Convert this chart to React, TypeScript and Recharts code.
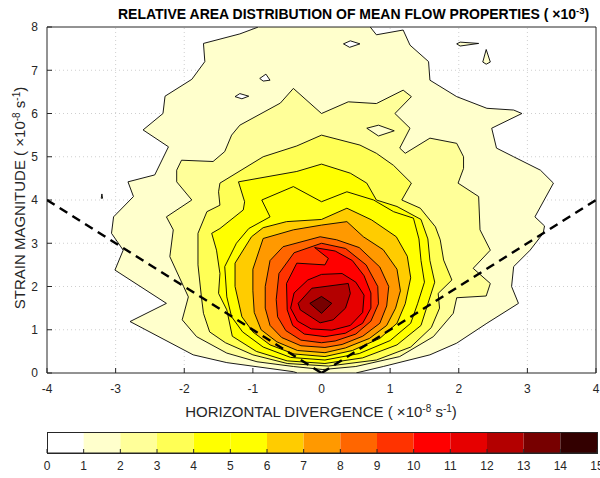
import React from "react";
import { ScatterChart, Scatter, XAxis, YAxis, ReferenceLine, BarChart, Bar } from "recharts";

type P = [number, number];

const X_TICKS = [-4, -3, -2, -1, 0, 1, 2, 3, 4];
const Y_TICKS = [0, 1, 2, 3, 4, 5, 6, 7, 8];
const CB_TICKS = [0, 1, 2, 3, 4, 5, 6, 7, 8, 9, 10, 11, 12, 13, 14, 15];

// colour of each band 0-1 ... 14-15
const LEVEL_COLORS = [
  "#ffffff", "#ffffcc", "#ffff99", "#ffff55", "#ffff00", "#ffff00", "#ffcc00", "#ff9900",
  "#ff6600", "#ff3300", "#ff0000", "#e60000", "#b30000", "#770000", "#330000",
];

// contour polygons (x = divergence, y = strain), outermost level first
const L1: P[] = [
  [0.5, 0], [-0.35, 0], [-0.41, 0.03], [-1.38, 0.24], [-1.87, 0.42], [-2.79, 1.19], [-2.26, 1.61],
  [-3.01, 2.38], [-2.89, 2.84], [-3.06, 3.23], [-3.03, 3.61], [-2.74, 4.08], [-2.82, 4.42],
  [-2.43, 4.58], [-2.23, 5.23], [-2.6, 5.62], [-2.31, 6.0], [-2.28, 6.4], [-1.89, 6.79],
  [-1.7, 7.2], [-1.72, 7.62], [-1.19, 7.84], [-0.92, 8.0], [0.71, 8.0], [0.8, 7.82], [1.19, 7.93],
  [1.29, 7.58], [1.56, 7.2], [1.58, 6.77], [1.97, 6.39], [2.41, 6.12], [2.8, 6.08], [2.92, 6.0],
  [2.48, 5.66], [2.55, 5.2], [2.8, 5.0], [3.19, 4.69], [3.38, 4.39], [3.11, 3.61], [3.25, 3.4],
  [3.23, 3.23], [3.04, 2.84], [2.8, 2.46], [2.77, 2.0], [2.87, 1.61], [2.41, 1.15], [1.97, 0.69],
  [1.58, 0.42], [0.9, 0.15],
];
const L2: P[] = [
  [0.0, 6.0], [0.39, 6.27], [0.8, 6.23], [1.19, 6.54], [1.31, 6.39], [1.07, 6.0], [1.29, 5.66],
  [1.14, 5.2], [1.22, 5.08], [1.58, 5.43], [1.97, 5.31], [2.07, 5.0], [2.07, 4.73], [1.99, 4.39],
  [2.29, 4.08], [2.31, 3.31], [2.46, 2.84], [2.21, 2.42], [2.46, 2.07], [2.4, 1.78], [1.97, 1.74],
  [1.92, 1.38], [1.63, 0.84], [1.14, 0.38], [0.5, 0.15], [0.02, 0.08], [-0.41, 0.15], [-0.94, 0.26],
  [-1.38, 0.46], [-1.82, 0.84], [-2.03, 1.23], [-1.94, 1.76], [-2.01, 2.0], [-2.21, 2.69],
  [-2.16, 3.31], [-2.26, 3.61], [-1.89, 4.0], [-2.11, 4.42], [-2.11, 4.69], [-2.04, 4.92],
  [-1.58, 4.89], [-1.41, 5.12], [-1.31, 5.5], [-1.19, 5.73], [-0.6, 6.24], [-0.41, 6.58],
];
const L3: P[] = [
  [0.0, 5.5], [0.56, 5.27], [0.8, 5.08], [1.05, 4.8], [1.31, 4.39], [1.17, 4.0], [1.44, 3.81],
  [1.66, 3.38], [1.73, 3.08], [1.78, 2.61], [1.9, 2.15], [1.7, 1.84], [1.72, 1.5], [1.6, 1.05],
  [1.3, 0.6], [0.8, 0.3], [0.1, 0.16], [-0.5, 0.22], [-1.0, 0.42], [-1.4, 0.7], [-1.63, 0.95],
  [-1.72, 1.38], [-1.75, 1.76], [-1.8, 2.5], [-1.8, 3.23], [-1.67, 3.73], [-1.48, 3.88],
  [-1.5, 4.19], [-1.48, 4.39], [-0.85, 5.0], [-0.36, 5.25],
];
const L4: P[] = [
  [0.0, 4.83], [0.42, 4.62], [0.66, 4.39], [0.8, 4.0], [1.1, 3.85], [1.45, 3.55], [1.55, 3.1],
  [1.58, 2.6], [1.65, 2.1], [1.55, 1.6], [1.45, 1.1], [1.1, 0.65], [0.6, 0.35], [0.05, 0.22],
  [-0.5, 0.28], [-0.95, 0.5], [-1.3, 0.85], [-1.38, 1.46], [-1.5, 1.84], [-1.48, 2.3],
  [-1.53, 2.84], [-1.6, 3.23], [-1.48, 3.34], [-1.14, 3.77], [-1.12, 3.96], [-1.21, 4.42],
  [-0.36, 4.66],
];
const L5: P[] = [
  [0.0, 3.96], [0.37, 4.19], [0.76, 4.0], [1.05, 3.73], [1.34, 3.58], [1.42, 3.1], [1.45, 2.6],
  [1.5, 2.1], [1.4, 1.6], [1.3, 1.15], [1.0, 0.75], [0.55, 0.45], [0.05, 0.3], [-0.45, 0.36],
  [-0.85, 0.6], [-1.15, 0.95], [-1.31, 1.3], [-1.38, 1.76], [-1.41, 2.46], [-1.24, 3.0],
  [-1.06, 3.34], [-0.75, 3.61], [-0.87, 4.0], [-0.41, 4.31],
];
const L6: P[] = [
  [0.0, 3.55], [0.37, 3.81], [0.73, 3.54], [1.09, 3.15], [1.25, 2.7], [1.3, 2.2], [1.22, 1.6],
  [1.1, 1.15], [0.85, 0.8], [0.45, 0.52], [0.05, 0.38], [-0.4, 0.44], [-0.75, 0.65], [-1.0, 0.95],
  [-1.16, 1.3], [-1.26, 2.0], [-1.26, 2.54], [-1.02, 3.15], [-0.85, 3.36], [-0.51, 3.5],
];
const L7: P[] = [
  [0.0, 3.42], [0.37, 3.5], [0.61, 3.15], [0.9, 2.85], [1.1, 2.4], [1.15, 1.9], [1.08, 1.5],
  [0.95, 1.1], [0.7, 0.8], [0.35, 0.58], [0.05, 0.47], [-0.35, 0.52], [-0.65, 0.72], [-0.88, 1.0],
  [-0.98, 1.4], [-1.0, 1.9], [-1.0, 2.4], [-0.85, 3.11], [-0.41, 3.31],
];
const L8: P[] = [
  [-0.02, 3.15], [0.22, 3.08], [0.55, 2.9], [0.85, 2.45], [0.98, 2.0], [0.95, 1.55], [0.85, 1.15],
  [0.6, 0.85], [0.3, 0.66], [0.05, 0.59], [-0.3, 0.63], [-0.58, 0.82], [-0.75, 1.1], [-0.82, 1.5],
  [-0.82, 2.0], [-0.75, 2.6], [-0.56, 2.92],
];
const L9: P[] = [
  [0.0, 3.0], [0.35, 2.88], [0.65, 2.5], [0.82, 2.0], [0.83, 1.6], [0.72, 1.2], [0.5, 0.9],
  [0.2, 0.74], [0.0, 0.7], [-0.3, 0.76], [-0.52, 0.98], [-0.64, 1.3], [-0.66, 1.7], [-0.62, 2.3],
  [-0.4, 2.78],
];
const L10: P[] = [
  [-0.1, 2.9], [0.2, 2.82], [0.45, 2.6], [0.62, 2.25], [0.72, 1.85], [0.72, 1.5], [0.6, 1.15],
  [0.35, 0.92], [0.05, 0.84], [-0.25, 0.9], [-0.42, 1.1], [-0.5, 1.46], [-0.51, 2.07],
  [-0.36, 2.54], [0.05, 2.5], [0.1, 2.65],
];
const L11: P[] = [
  [0.0, 2.28], [0.3, 2.3], [0.5, 2.1], [0.62, 1.8], [0.6, 1.4], [0.42, 1.1], [0.15, 0.99],
  [-0.15, 1.02], [-0.35, 1.2], [-0.45, 1.5], [-0.4, 1.85], [-0.2, 2.15],
];
const L12: P[] = [
  [-0.34, 1.61], [-0.14, 1.96], [0.39, 2.07], [0.42, 1.84], [0.35, 1.5], [0.17, 1.23],
  [-0.02, 1.16], [-0.31, 1.46],
];
const L13: P[] = [[-0.17, 1.61], [0.0, 1.77], [0.15, 1.61], [0.0, 1.38]];

const LEVELS = [L1, L2, L3, L4, L5, L6, L7, L8, L9, L10, L11, L12, L13];

// small closed contours: local minima (white) and isolated maxima / holes (cream)
const WHITE_SPOTS: P[][] = [
  [[-1.26, 6.39], [-1.19, 6.46], [-1.06, 6.4], [-1.16, 6.34]],
  [[-0.9, 6.81], [-0.81, 6.91], [-0.75, 6.77], [-0.85, 6.75]],
  [[0.32, 7.61], [0.42, 7.68], [0.56, 7.61], [0.41, 7.53]],
];
const CREAM_SPOTS: P[][] = [
  [[1.97, 7.61], [2.02, 7.65], [2.29, 7.62], [2.02, 7.56]],
  [[2.4, 7.48], [2.46, 7.19], [2.4, 7.14], [2.35, 7.19]],
  [[-3.21, 4.04], [-3.2, 4.14], [-3.19, 4.04]],
  [[0.66, 5.66], [0.83, 5.73], [1.06, 5.6], [0.83, 5.48]],
];

const DASH_LEFT: P[] = [[-4, 4], [0, 0]];
const DASH_RIGHT: P[] = [[0, 0], [4, 4]];

const CB_ROW = [
  LEVEL_COLORS.reduce<Record<string, number | string>>((row, _c, i) => {
    row[`b${i}`] = 1;
    return row;
  }, { name: "cb" }),
];

const toXY = (pts: P[]) => pts.map(([x, y]) => ({ x, y }));
const noDot = () => <g />;

function filledPath(fill: string) {
  return (props: any) => {
    const pts = props.points ?? [];
    if (!pts.length) return <g />;
    const d = pts.map((p: any, i: number) => `${i ? "L" : "M"}${p.x},${p.y}`).join(" ") + " Z";
    return <path d={d} fill={fill} stroke="#000" strokeWidth={0.9} strokeLinejoin="round" />;
  };
}

const AXIS_COLOR = "#262626";
const FONT = "'Liberation Sans', Arial, Helvetica, sans-serif";
const tickStyle = { fontSize: 12, fill: AXIS_COLOR, fontFamily: FONT };

export default function App() {
  return (
    <div style={{ position: "fixed", left: 0, top: 0, width: 600, height: 478, background: "#fff", fontFamily: FONT }}>
      <ScatterChart width={600} height={478} margin={{ top: 26, right: 3, bottom: 75, left: 7 }}>
        <XAxis
          type="number" dataKey="x" domain={[-4, 4]} ticks={X_TICKS} allowDataOverflow
          height={30} tickSize={-5} tickMargin={16} tick={tickStyle}
          stroke={AXIS_COLOR} interval={0}
        />
        <XAxis
          xAxisId="top" orientation="top" type="number" domain={[-4, 4]} ticks={X_TICKS}
          allowDataOverflow height={1} tickSize={-5} tick={false} stroke={AXIS_COLOR}
        />
        <YAxis
          type="number" dataKey="y" domain={[0, 8]} ticks={Y_TICKS} allowDataOverflow
          width={40} tickSize={-5} tickMargin={14} tick={tickStyle}
          stroke={AXIS_COLOR} interval={0}
        />
        <YAxis
          yAxisId="right" orientation="right" type="number" domain={[0, 8]} ticks={Y_TICKS}
          allowDataOverflow width={1} tickSize={-5} tick={false} stroke={AXIS_COLOR}
        />
        {LEVELS.map((poly, i) => (
          <Scatter
            key={`lvl${i}`} data={toXY(poly)} shape={noDot}
            line={filledPath(LEVEL_COLORS[i + 1])} isAnimationActive={false}
          />
        ))}
        {WHITE_SPOTS.map((poly, i) => (
          <Scatter key={`w${i}`} data={toXY(poly)} shape={noDot} line={filledPath("#ffffff")} isAnimationActive={false} />
        ))}
        {CREAM_SPOTS.map((poly, i) => (
          <Scatter key={`c${i}`} data={toXY(poly)} shape={noDot} line={filledPath(LEVEL_COLORS[1])} isAnimationActive={false} />
        ))}
        {X_TICKS.slice(1, -1).map((t) => (
          <ReferenceLine key={`gx${t}`} x={t} stroke="#cfcfcf" strokeDasharray="1 3" />
        ))}
        {Y_TICKS.slice(1, -1).map((t) => (
          <ReferenceLine key={`gy${t}`} y={t} stroke="#cfcfcf" strokeDasharray="1 3" />
        ))}
        <Scatter data={toXY(DASH_LEFT)} shape={noDot} line={{ stroke: "#000", strokeWidth: 2.5, strokeDasharray: "9 6" }} isAnimationActive={false} />
        <Scatter data={toXY(DASH_RIGHT)} shape={noDot} line={{ stroke: "#000", strokeWidth: 2.5, strokeDasharray: "9 6" }} isAnimationActive={false} />
      </ScatterChart>

      <div style={{ position: "absolute", left: 0, top: 420 }}>
        <BarChart layout="vertical" width={600} height={58} data={CB_ROW} margin={{ top: 12, right: 3, bottom: 0, left: 47 }} barCategoryGap={0}>
          <XAxis
            type="number" domain={[0, 15]} ticks={CB_TICKS} allowDataOverflow height={25}
            tickSize={-4} tickMargin={12} tick={tickStyle} stroke={AXIS_COLOR} interval={0}
          />
          <YAxis type="category" dataKey="name" hide />
          {LEVEL_COLORS.map((c, i) => (
            <Bar key={`cb${i}`} dataKey={`b${i}`} stackId="cb" fill={c} isAnimationActive={false} />
          ))}
        </BarChart>
      </div>
      <div style={{ position: "absolute", left: 47, top: 432, width: 549, height: 20, border: `1px solid ${AXIS_COLOR}`, pointerEvents: "none" }} />

      <svg width={600} height={478} style={{ position: "absolute", left: 0, top: 0, pointerEvents: "none" }}>
        <text x={118} y={19} fontSize={14} fontWeight="bold" fill="#000" fontFamily={FONT}>
          RELATIVE AREA DISTRIBUTION OF MEAN FLOW PROPERTIES ( ×10
          <tspan dy={-5} fontSize={9.5}>-3</tspan>
          <tspan dy={5}>)</tspan>
        </text>
        <text x={321} y={417} textAnchor="middle" fontSize={15} fill={AXIS_COLOR} fontFamily={FONT}>
          HORIZONTAL DIVERGENCE ( ×10
          <tspan dy={-5} fontSize={10}>-8</tspan>
          <tspan dy={5}> s</tspan>
          <tspan dy={-5} fontSize={10}>-1</tspan>
          <tspan dy={5}>)</tspan>
        </text>
        <text transform="translate(25,198) rotate(-90)" x={0} y={0} textAnchor="middle" fontSize={15} fill={AXIS_COLOR} fontFamily={FONT}>
          STRAIN MAGNITUDE ( ×10
          <tspan dy={-5} fontSize={10}>-8</tspan>
          <tspan dy={5}> s</tspan>
          <tspan dy={-5} fontSize={10}>-1</tspan>
          <tspan dy={5}>)</tspan>
        </text>
      </svg>
    </div>
  );
}
